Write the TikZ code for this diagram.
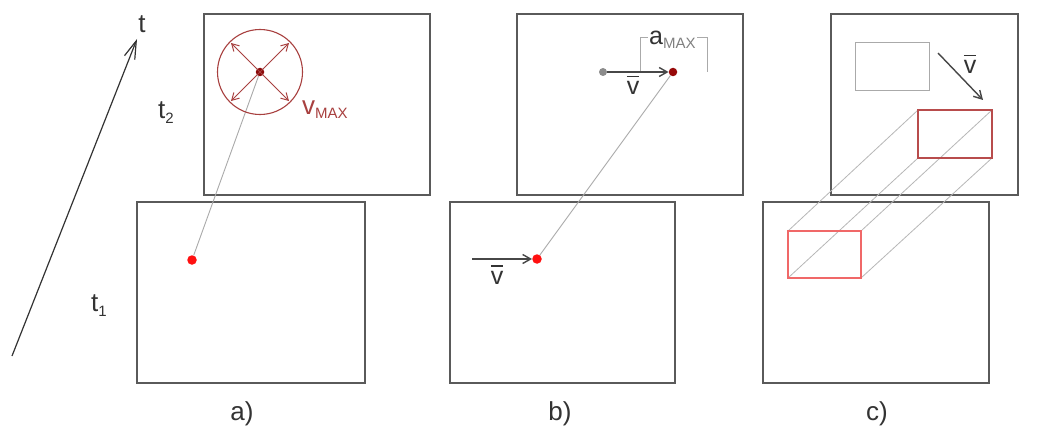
\documentclass[tikz,border=0pt]{standalone}
\usepackage{fontspec}
\setmainfont{Liberation Sans}
\usetikzlibrary{arrows.meta}
\definecolor{framec}{HTML}{5A5A5A}
\definecolor{trackc}{HTML}{AAAAAA}
\definecolor{maxc}{HTML}{A8403F}
\definecolor{darkred}{HTML}{8B0A0A}
\definecolor{brightred}{HTML}{FF1010}
\definecolor{txtc}{HTML}{333333}
\definecolor{rectred}{HTML}{F06868}
\definecolor{rectdark}{HTML}{B84C4C}
\newcommand\mysub[1]{\raisebox{-0.4ex}{\fontsize{15}{15}\selectfont #1}}
\newcommand\vecv{\leavevmode\hbox{\rlap{\raisebox{0.7em}{\rule{0.5em}{1.3pt}}}v}}
\begin{document}
\begin{tikzpicture}[x=1pt,y=-1pt,
  frame/.style={draw=framec,line width=1.4pt},
  track/.style={draw=trackc,line width=0.9pt},
  reddot/.style={circle,fill=brightred,inner sep=0pt,minimum size=9.5pt},
  darkdot/.style={circle,fill=darkred,inner sep=0pt,minimum size=8.5pt},
  graydot/.style={circle,fill=gray!90,inner sep=0pt,minimum size=8pt},
  lbl/.style={text=txtc,font=\fontsize{26}{28}\selectfont,inner sep=0pt},
  vlbl/.style={text=txtc,font=\fontsize{25}{27}\selectfont,inner sep=0pt},
  barb/.style={-{Straight Barb[length=8pt,width=9pt]}},
  motion/.style={draw=txtc!90,line width=1.4pt,barb},
  ghost/.style={draw=trackc!85,line width=0.8pt}]
\useasboundingbox (0,0) rectangle (1045,428);
\fill[white] (0,0) rectangle (1045,428);
% frames
\draw[frame] (204,14) rectangle (430,195);
\draw[frame] (137,202) rectangle (365,383);
\draw[frame] (517,14) rectangle (743,195);
\draw[frame] (450,202) rectangle (675,383);
\draw[frame] (831,14) rectangle (1018,195);
\draw[frame] (763,202) rectangle (989,383);
% time axis
\coordinate (t0) at (12,356);
\coordinate (ttip) at (137,39);
\draw[draw=txtc,line width=1.2pt,-{Straight Barb[length=18pt,width=11pt]}] (t0) -- (ttip);
\node[lbl,anchor=base] (tlab) at (142,33) {t};
\node[lbl,anchor=base west] (t2lab) at (158,118) {t\mysub{2}};
\node[lbl,anchor=base west] (t1lab) at (91,311) {t\mysub{1}};
% panel a
\node[reddot] (a1) at (192,260) {};
\node[darkdot] (a2) at (260,72) {};
\draw[track] (a2) -- (a1);
\draw[maxc,line width=1.1pt] (a2.center) circle (42.5);
\foreach \ang in {45,135,225,315}
  \draw[maxc,line width=1pt,-{Straight Barb[length=7pt,width=8pt]}] (a2.center) -- ++(\ang:41);
\node[text=maxc,inner sep=0pt,anchor=base west] (vmax) at (302,114) {\fontsize{26}{26}\selectfont v\raisebox{-0.3ex}{\fontsize{15}{15}\selectfont MAX}};
% panel b
\node[graydot] (b0) at (603,72) {};
\node[darkdot,fill=darkred!90!red] (b2) at (673,72) {};
\node[reddot] (b1) at (537,259) {};
\coordinate (b1s) at (472,259);
\draw[track] (b2) -- (b1);
\draw[draw=trackc,line width=1pt] (640,72) -- (640,38) -- (707,38) -- (707,72);
\node[fill=white,inner sep=1pt,anchor=base west,text=txtc] (amax) at (648,45) {\fontsize{25}{25}\selectfont a\raisebox{-0.3ex}{\fontsize{15}{15}\selectfont\color{gray}MAX}};
\draw[motion] (b0) -- (b2);
\node[vlbl,anchor=base] (bv1) at (633,95) {\vecv};
\draw[motion] (b1s) -- (b1);
\node[vlbl,anchor=base] (bv2) at (497,284) {\vecv};
% panel c
\coordinate (r1a) at (788,231); \coordinate (r1b) at (861,231);
\coordinate (r1c) at (861,278); \coordinate (r1d) at (788,278);
\coordinate (r2a) at (918,110); \coordinate (r2b) at (992,110);
\coordinate (r2c) at (992,158); \coordinate (r2d) at (918,158);
\draw[ghost] (r1a) -- (r2a);
\draw[ghost] (r1b) -- (r2b);
\draw[ghost] (r1c) -- (r2c);
\draw[ghost] (r1d) -- (r2d);
\draw[draw=trackc,line width=1pt] (855,43) rectangle (929,91);
\draw[draw=rectdark,line width=1.3pt] (r2a) rectangle (r2c);
\draw[draw=rectred,line width=1.4pt] (r1a) rectangle (r1c);
\coordinate (cv0) at (938,53);
\coordinate (cv1) at (983,100);
\draw[motion] (cv0) -- (cv1);
\node[vlbl,anchor=base] (cv) at (970,74) {\vecv};
% captions
\node[lbl,anchor=base] (capa) at (242,420) {a)};
\node[lbl,anchor=base] (capb) at (560,420) {b)};
\node[lbl,anchor=base] (capc) at (877,420) {c)};
\end{tikzpicture}
\end{document}
